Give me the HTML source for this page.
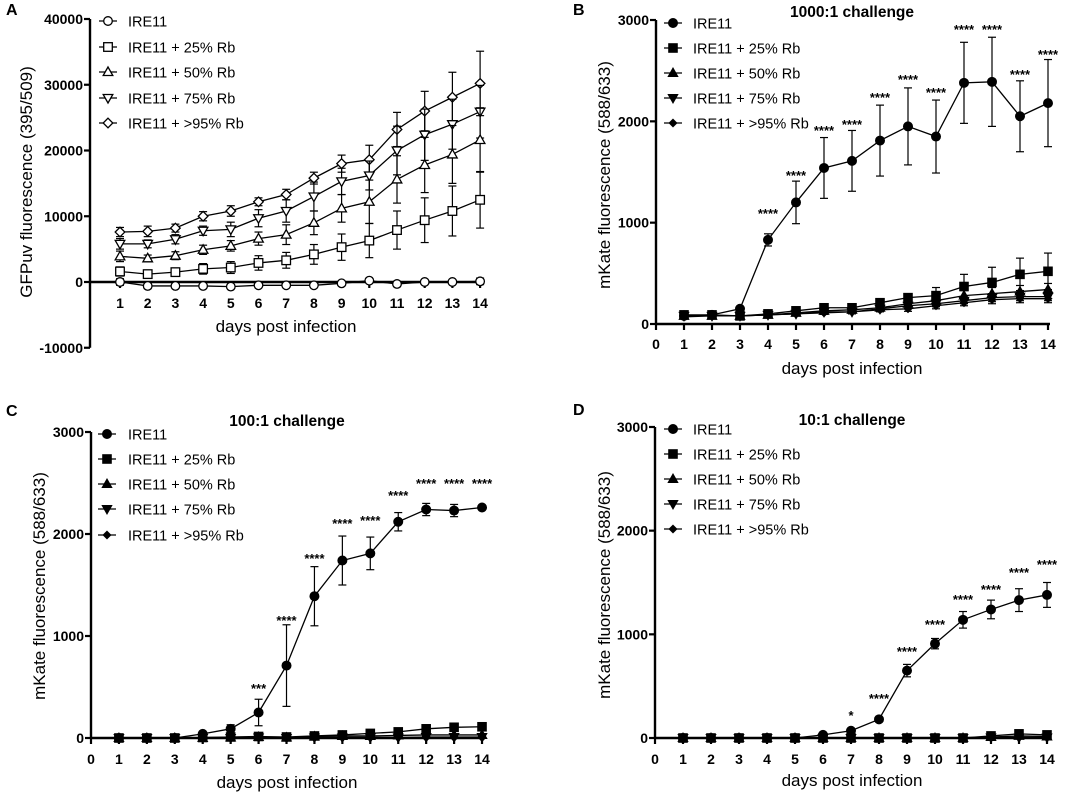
<!DOCTYPE html>
<html><head><meta charset="utf-8">
<style>
html,body{margin:0;padding:0;background:#fff;}
svg{display:block;font-family:"Liberation Sans",Arial,sans-serif;}
</style></head>
<body>
<svg id="fig" width="1084" height="795" viewBox="0 0 1084 795" xmlns="http://www.w3.org/2000/svg"></svg>
<script>
const days = [1,2,3,4,5,6,7,8,9,10,11,12,13,14];
const seriesNames = ["IRE11","IRE11 + 25% Rb","IRE11 + 50% Rb","IRE11 + 75% Rb","IRE11 + >95% Rb"];

// Panel A (GFPuv)
const aIre = [0,-600,-600,-600,-700,-500,-500,-500,-200,200,-300,0,0,100];
const aIreErr = [500,400,300,300,300,300,300,300,300,300,400,300,300,500];
const a25 = [1600,1200,1500,2000,2200,2900,3300,4200,5300,6300,7900,9400,10800,12500];
const a25Err = [700,500,600,800,900,1100,1200,1500,2000,2600,2900,3400,3800,4300];
const a50 = [3900,3600,4000,4900,5500,6600,7200,9000,11200,12200,15600,17800,19400,21600];
const a50Err = [800,500,600,700,800,1000,1500,1800,2100,3300,3600,4200,4400,4900];
const a75 = [5800,5800,6500,7800,8000,9700,10800,13000,15300,16200,20000,22400,24000,25900];
const a75Err = [800,600,700,700,1100,1300,1700,2200,2000,2200,3700,3900,3800,4000];
const a95 = [7600,7700,8200,10000,10800,12200,13300,15800,18000,18600,23200,26000,28100,30200];
const a95Err = [700,800,600,700,800,600,800,900,1300,2200,2600,3000,3800,4900];
const aTicks = [-10000,0,10000,20000,30000,40000];

// Panel B (1000:1)
const bIre = [80,90,150,830,1200,1540,1610,1810,1950,1850,2380,2390,2050,2180];
const bIreErr = [0,0,20,60,210,300,300,350,380,360,400,440,350,430];
const b25 = [90,90,80,100,130,160,160,210,260,280,370,410,490,520];
const b25Err = [10,10,10,15,20,25,25,30,40,80,120,150,160,180];
const b50 = [80,80,80,90,110,130,140,160,200,230,280,300,320,340];
const b50Err = [10,10,10,10,15,20,20,25,30,40,50,60,60,60];
const b75 = [80,80,80,90,100,120,120,150,180,200,230,260,270,270];
const b75Err = [10,10,10,10,15,15,20,20,25,30,30,40,40,40];
const b95 = [70,80,80,90,100,110,120,140,150,180,210,240,250,250];
const b95Err = [10,10,10,10,15,15,20,20,25,30,30,40,40,40];
const bStars = ["","","","****","****","****","****","****","****","****","****","****","****","****"];
const bStarLevel = [0,0,0,1115,1490,1935,1995,2260,2440,2310,2930,2930,2485,2685];

// Panel C (100:1)
const cIre = [0,0,0,40,90,250,710,1390,1740,1810,2120,2240,2230,2260];
const cIreErr = [0,0,0,0,40,130,400,290,240,160,90,60,60,0];
const c25 = [0,0,0,5,10,15,10,20,30,45,60,90,105,110];
const c25Err = [0,0,0,0,0,0,0,0,0,0,0,10,10,10];
const c50 = [0,0,0,0,5,10,5,15,20,20,25,30,30,30];
const c50Err = [0,0,0,0,0,0,0,0,0,0,0,0,0,0];
const c75 = [0,0,0,0,0,5,0,5,5,5,5,10,10,10];
const c75Err = [0,0,0,0,0,0,0,0,0,0,0,0,0,0];
const c95 = [0,0,0,0,0,5,0,5,5,5,5,5,5,5];
const c95Err = [0,0,0,0,0,0,0,0,0,0,0,0,0,0];
const cStars = ["","","","","","***","****","****","****","****","****","****","****","****"];
const cStarLevel = [0,0,0,0,0,510,1176,1784,2127,2157,2402,2520,2520,2520];

// Panel D (10:1)
const dIre = [0,0,0,0,0,30,70,180,650,910,1140,1240,1330,1380];
const dIreErr = [0,0,0,0,0,0,0,0,60,50,80,90,110,120];
const d25 = [0,0,0,0,0,0,0,0,0,0,0,20,40,30];
const d25Err = [0,0,0,0,0,0,0,0,0,0,0,0,0,0];
const d50 = [0,0,0,0,0,0,0,0,0,0,0,10,20,15];
const d50Err = [0,0,0,0,0,0,0,0,0,0,0,0,0,0];
const d75 = [0,0,0,0,0,0,0,0,0,0,0,5,5,5];
const d75Err = [0,0,0,0,0,0,0,0,0,0,0,0,0,0];
const d95 = [0,0,0,0,0,0,0,0,0,0,0,5,5,5];
const d95Err = [0,0,0,0,0,0,0,0,0,0,0,0,0,0];
const dStars = ["","","","","","","*","****","****","****","****","****","****","****"];
const dStarLevel = [0,0,0,0,0,0,241,405,858,1119,1360,1456,1620,1697];

const mkTicks = [0,1000,2000,3000];
const xTickLabels = ["0","1","2","3","4","5","6","7","8","9","10","11","12","13","14"];

const NS = "http://www.w3.org/2000/svg";
const svg = document.getElementById("fig");
function el(tag, attrs, parent, txt){
  const e = document.createElementNS(NS, tag);
  for (const k in attrs) e.setAttribute(k, attrs[k]);
  if (txt !== undefined) e.textContent = txt;
  (parent||svg).appendChild(e);
  return e;
}
const shapes = ["circle","square","up","down","diamond"];
function marker(g, shape, cx, cy, open){
  const fill = open ? "#fff" : "#000";
  const sw = open ? 1.3 : 1;
  let m;
  if (shape==="circle") m = el("circle",{cx:cx,cy:cy,r:open?4.3:4.5,fill:fill,stroke:"#000","stroke-width":sw},g);
  else if (shape==="square") m = el("rect",{x:cx-4.3,y:cy-4.3,width:8.6,height:8.6,fill:fill,stroke:"#000","stroke-width":sw},g);
  else if (shape==="up") m = el("polygon",{points:`${cx},${cy-5} ${cx+4.8},${cy+3.5} ${cx-4.8},${cy+3.5}`,fill:fill,stroke:"#000","stroke-width":sw},g);
  else if (shape==="down") m = el("polygon",{points:`${cx},${cy+5} ${cx+4.8},${cy-3.5} ${cx-4.8},${cy-3.5}`,fill:fill,stroke:"#000","stroke-width":sw},g);
  else { const r = open?4.8:3.8; m = el("polygon",{points:`${cx},${cy-r} ${cx+r},${cy} ${cx},${cy+r} ${cx-r},${cy}`,fill:fill,stroke:"#000","stroke-width":sw},g); }
  return m;
}

function panel(cfg){
  const g = el("g",{});
  
  
  const yv = v => cfg.y0 - (v - cfg.yZeroVal) * cfg.yScale;
  const xv = d => cfg.x0 + d * cfg.dx;
  const lt = el("text",{x:cfg.letter[1],y:cfg.letter[2],"font-size":16,"font-weight":"bold"},g,cfg.letter[0]);
  
  
  if (cfg.title){
    const t = el("text",{x:cfg.title[1],y:cfg.title[2],"font-size":15.5,"font-weight":"bold","text-anchor":"middle"},g,cfg.title[0]);
    
    
  }
  const ya = el("g",{},g);
  
  
  const yTop = yv(cfg.yTicks[cfg.yTicks.length-1]), yBot = yv(cfg.yTicks[0]);
  el("line",{x1:cfg.axisX,x2:cfg.axisX,y1:yTop,y2:yBot,stroke:"#000","stroke-width":2.4},ya);
  cfg.yTicks.forEach(v=>{
    const y = yv(v);
    el("line",{x1:cfg.axisX-6,x2:cfg.axisX,y1:y,y2:y,stroke:"#000","stroke-width":2.2},ya);
    const tl = el("text",{x:cfg.axisX-7,y:y+5,"font-size":14,"font-weight":"bold","text-anchor":"end"},ya,String(v));
    
    
  });
  const yt = el("text",{x:cfg.yTitle[1],y:cfg.yTitle[2],"font-size":17,"text-anchor":"middle",transform:`rotate(-90 ${cfg.yTitle[1]} ${cfg.yTitle[2]})`},g,cfg.yTitle[0]);
  
  
  const xa = el("g",{},g);
  
  
  const ay = yv(0);
  el("line",{x1:cfg.axisX,x2:xv(14)+2,y1:ay,y2:ay,stroke:"#000","stroke-width":2.4},xa);
  const startD = cfg.showZero ? 0 : 1;
  for (let d=startD; d<=14; d++){
    const x = xv(d);
    el("line",{x1:x,x2:x,y1:ay,y2:ay+6,stroke:"#000","stroke-width":2.2},xa);
    const tl = el("text",{x:x,y:cfg.xLabelY,"font-size":14,"font-weight":"bold","text-anchor":"middle"},xa,xTickLabels[d]);
    
    
  }
  const xt = el("text",{x:cfg.xTitle[0],y:cfg.xTitle[1],"font-size":17,"text-anchor":"middle"},g,"days post infection");
  
  
  const order = [4,3,2,1,0];
  order.forEach(si=>{
    const vals = cfg.series[si], errs = cfg.errs[si];
    const sg = el("g",{},g);
    
    
    const pts = days.map((d,i)=>`${xv(d)},${yv(vals[i])}`).join(" ");
    el("polyline",{points:pts,fill:"none",stroke:"#000","stroke-width":1.3},sg);
    days.forEach((d,i)=>{
      const x = xv(d), e = errs[i];
      if (e > 0){
        const y1 = yv(vals[i]+e), y2 = yv(vals[i]-e);
        el("line",{x1:x,x2:x,y1:y1,y2:y2,stroke:"#000","stroke-width":1.2},sg);
        el("line",{x1:x-4,x2:x+4,y1:y1,y2:y1,stroke:"#000","stroke-width":1.2},sg);
        el("line",{x1:x-4,x2:x+4,y1:y2,y2:y2,stroke:"#000","stroke-width":1.2},sg);
      }
      const m = marker(sg, shapes[si], x, yv(vals[i]), cfg.open);
      
      
    });
  });
  if (cfg.stars){
    days.forEach((d,i)=>{
      if (!cfg.stars[i]) return;
      const s = el("text",{x:xv(d),y:yv(cfg.starLevel[i])+7,"font-size":13,"font-weight":"bold","text-anchor":"middle"},g,cfg.stars[i]);
      
      
    });
  }
  const lg = el("g",{},g);
  
  
  seriesNames.forEach((n,i)=>{
    const y = cfg.legend.y[i];
    const e = el("g",{},lg);
    
    
    el("line",{x1:cfg.legend.mx-9,x2:cfg.legend.mx+9,y1:y,y2:y,stroke:"#000","stroke-width":1.3},e);
    marker(e, shapes[i], cfg.legend.mx, y, cfg.open);
    el("text",{x:cfg.legend.tx,y:y+5.5,"font-size":14.5},e,n);
  });
}

panel({name:"panel-a-gfpuv", letter:["A",6,15], title:null,
  axisX:90, x0:92.3, dx:27.7, y0:282, yZeroVal:0, yScale:0.006575, yTicks:aTicks, showZero:false,
  xLabelY:308, xTitle:[286,332], yTitle:["GFPuv fluorescence (395/509)",32,182],
  series:[aIre,a25,a50,a75,a95], errs:[aIreErr,a25Err,a50Err,a75Err,a95Err], open:true,
  legend:{mx:108, tx:128, y:[21,47,72,98,123]}});

panel({name:"panel-b-1000-to-1", letter:["B",573,15], title:["1000:1 challenge",852,17],
  axisX:656, x0:656, dx:28, y0:324, yZeroVal:0, yScale:0.10133, yTicks:mkTicks, showZero:true,
  xLabelY:349, xTitle:[852,374], yTitle:["mKate fluorescence (588/633)",610,175],
  series:[bIre,b25,b50,b75,b95], errs:[bIreErr,b25Err,b50Err,b75Err,b95Err], open:false,
  stars:bStars, starLevel:bStarLevel,
  legend:{mx:673, tx:693, y:[23,48,73,98,123]}});

panel({name:"panel-c-100-to-1", letter:["C",6,416], title:["100:1 challenge",287,426],
  axisX:91, x0:91, dx:27.93, y0:738, yZeroVal:0, yScale:0.102, yTicks:mkTicks, showZero:true,
  xLabelY:764, xTitle:[287,788], yTitle:["mKate fluorescence (588/633)",45,586],
  series:[cIre,c25,c50,c75,c95], errs:[cIreErr,c25Err,c50Err,c75Err,c95Err], open:false,
  stars:cStars, starLevel:cStarLevel,
  legend:{mx:107, tx:128, y:[434,459,484,509,535]}});

panel({name:"panel-d-10-to-1", letter:["D",573,415], title:["10:1 challenge",852,425],
  axisX:655, x0:655, dx:28, y0:738, yZeroVal:0, yScale:0.10367, yTicks:mkTicks, showZero:true,
  xLabelY:764, xTitle:[852,786], yTitle:["mKate fluorescence (588/633)",610,585],
  series:[dIre,d25,d50,d75,d95], errs:[dIreErr,d25Err,d50Err,d75Err,d95Err], open:false,
  stars:dStars, starLevel:dStarLevel,
  legend:{mx:673, tx:693, y:[429,454,479,504,529]}});
</script>
</body></html>
